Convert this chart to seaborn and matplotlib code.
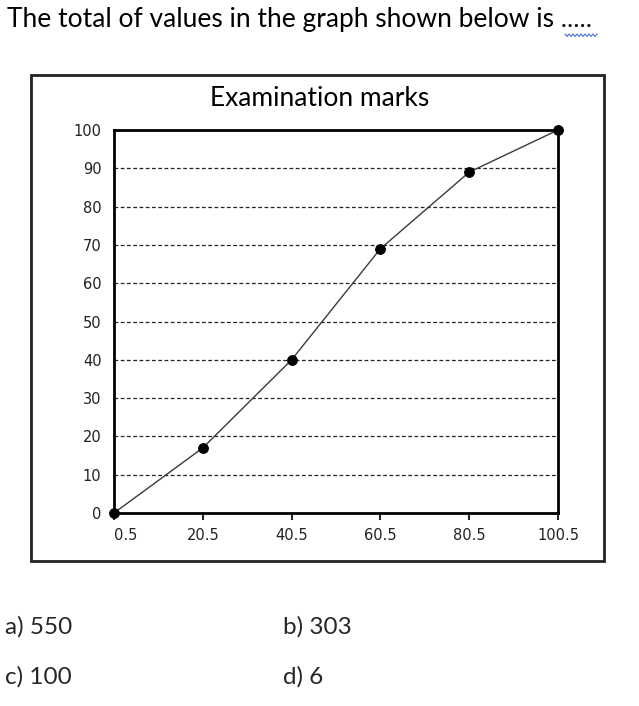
import numpy as np
import pandas as pd
import matplotlib
matplotlib.use("Agg")
from matplotlib import pyplot as plt
from matplotlib.patches import Rectangle
from matplotlib.lines import Line2D
import seaborn as sns

marks = [0.5, 20.5, 40.5, 60.5, 80.5, 100.5]
cum_freq = [0, 17, 40, 69, 89, 100]
y_ticks = [0, 10, 20, 30, 40, 50, 60, 70, 80, 90, 100]
question = "The total of values in the graph shown below is ....."
options = ["a) 550", "b) 303", "c) 100", "d) 6"]

sns.set_style("white")
plt.rcParams["font.family"] = ["DejaVu Sans"]

df = pd.DataFrame({"mark": marks, "freq": cum_freq})

W, H = 639, 706
fig = plt.figure(figsize=(W / 100, H / 100), dpi=100)
ax = fig.add_axes([114 / W, 1 - 513 / H, (558 - 114) / W, (513 - 130) / H])

sns.lineplot(data=df, x="mark", y="freq", ax=ax, color="#3a3a3a", linewidth=1,
             marker="o", markersize=7, markerfacecolor="black",
             markeredgecolor="black", zorder=3, clip_on=False)

ax.set_xlim(marks[0], marks[-1])
ax.set_ylim(0, 100)
ax.set_xticks(marks)
ax.set_xticklabels([str(m) for m in marks], fontsize=10.5, color="#222222")
ax.set_yticks(y_ticks)
ax.set_yticklabels([str(v) for v in y_ticks], fontsize=10.5, color="#222222")
ax.tick_params(axis="x", length=5, width=1.5, pad=6, direction="out", bottom=True)
ax.tick_params(axis="y", length=0, pad=9)
for lab in ax.get_xticklabels()[:1]:
    lab.set_horizontalalignment("left")
ax.set_xlabel("")
ax.set_ylabel("")
for s in ax.spines.values():
    s.set_visible(True)
    s.set_color("black")
    s.set_linewidth(2)
for v in y_ticks[1:-1]:
    ax.axhline(v, color="#222222", linestyle=(0, (3, 2)), linewidth=0.9, zorder=1)

# outer frame around chart
fig.add_artist(Rectangle((31 / W, 1 - 561 / H), (604 - 31) / W, (561 - 75) / H,
                         transform=fig.transFigure, fill=False,
                         edgecolor="#222222", linewidth=2))
fig.text(320 / W, 1 - 98 / H, "Examination marks", fontsize=19, family="Lato",
         ha="center", va="center", color="black")

fig.text(7 / W, 1 - 20 / H, question, fontsize=19, family="Lato",
         ha="left", va="center", color="black")
# spell-check squiggle under the dots
zx = np.linspace(565, 597, 17)
zy = np.where(np.arange(17) % 2 == 0, 34, 36.5)
fig.add_artist(Line2D(zx / W, 1 - zy / H, transform=fig.transFigure,
                      color="#4a6fd8", linewidth=0.8))

fig.text(5 / W, 1 - 627 / H, options[0], fontsize=17.5, family="Lato", va="center")
fig.text(283 / W, 1 - 627 / H, options[1], fontsize=17.5, family="Lato", va="center")
fig.text(5 / W, 1 - 677 / H, options[2], fontsize=17.5, family="Lato", va="center")
fig.text(283 / W, 1 - 677 / H, options[3], fontsize=17.5, family="Lato", va="center")

fig.savefig("out.png", dpi=100, facecolor="white")
